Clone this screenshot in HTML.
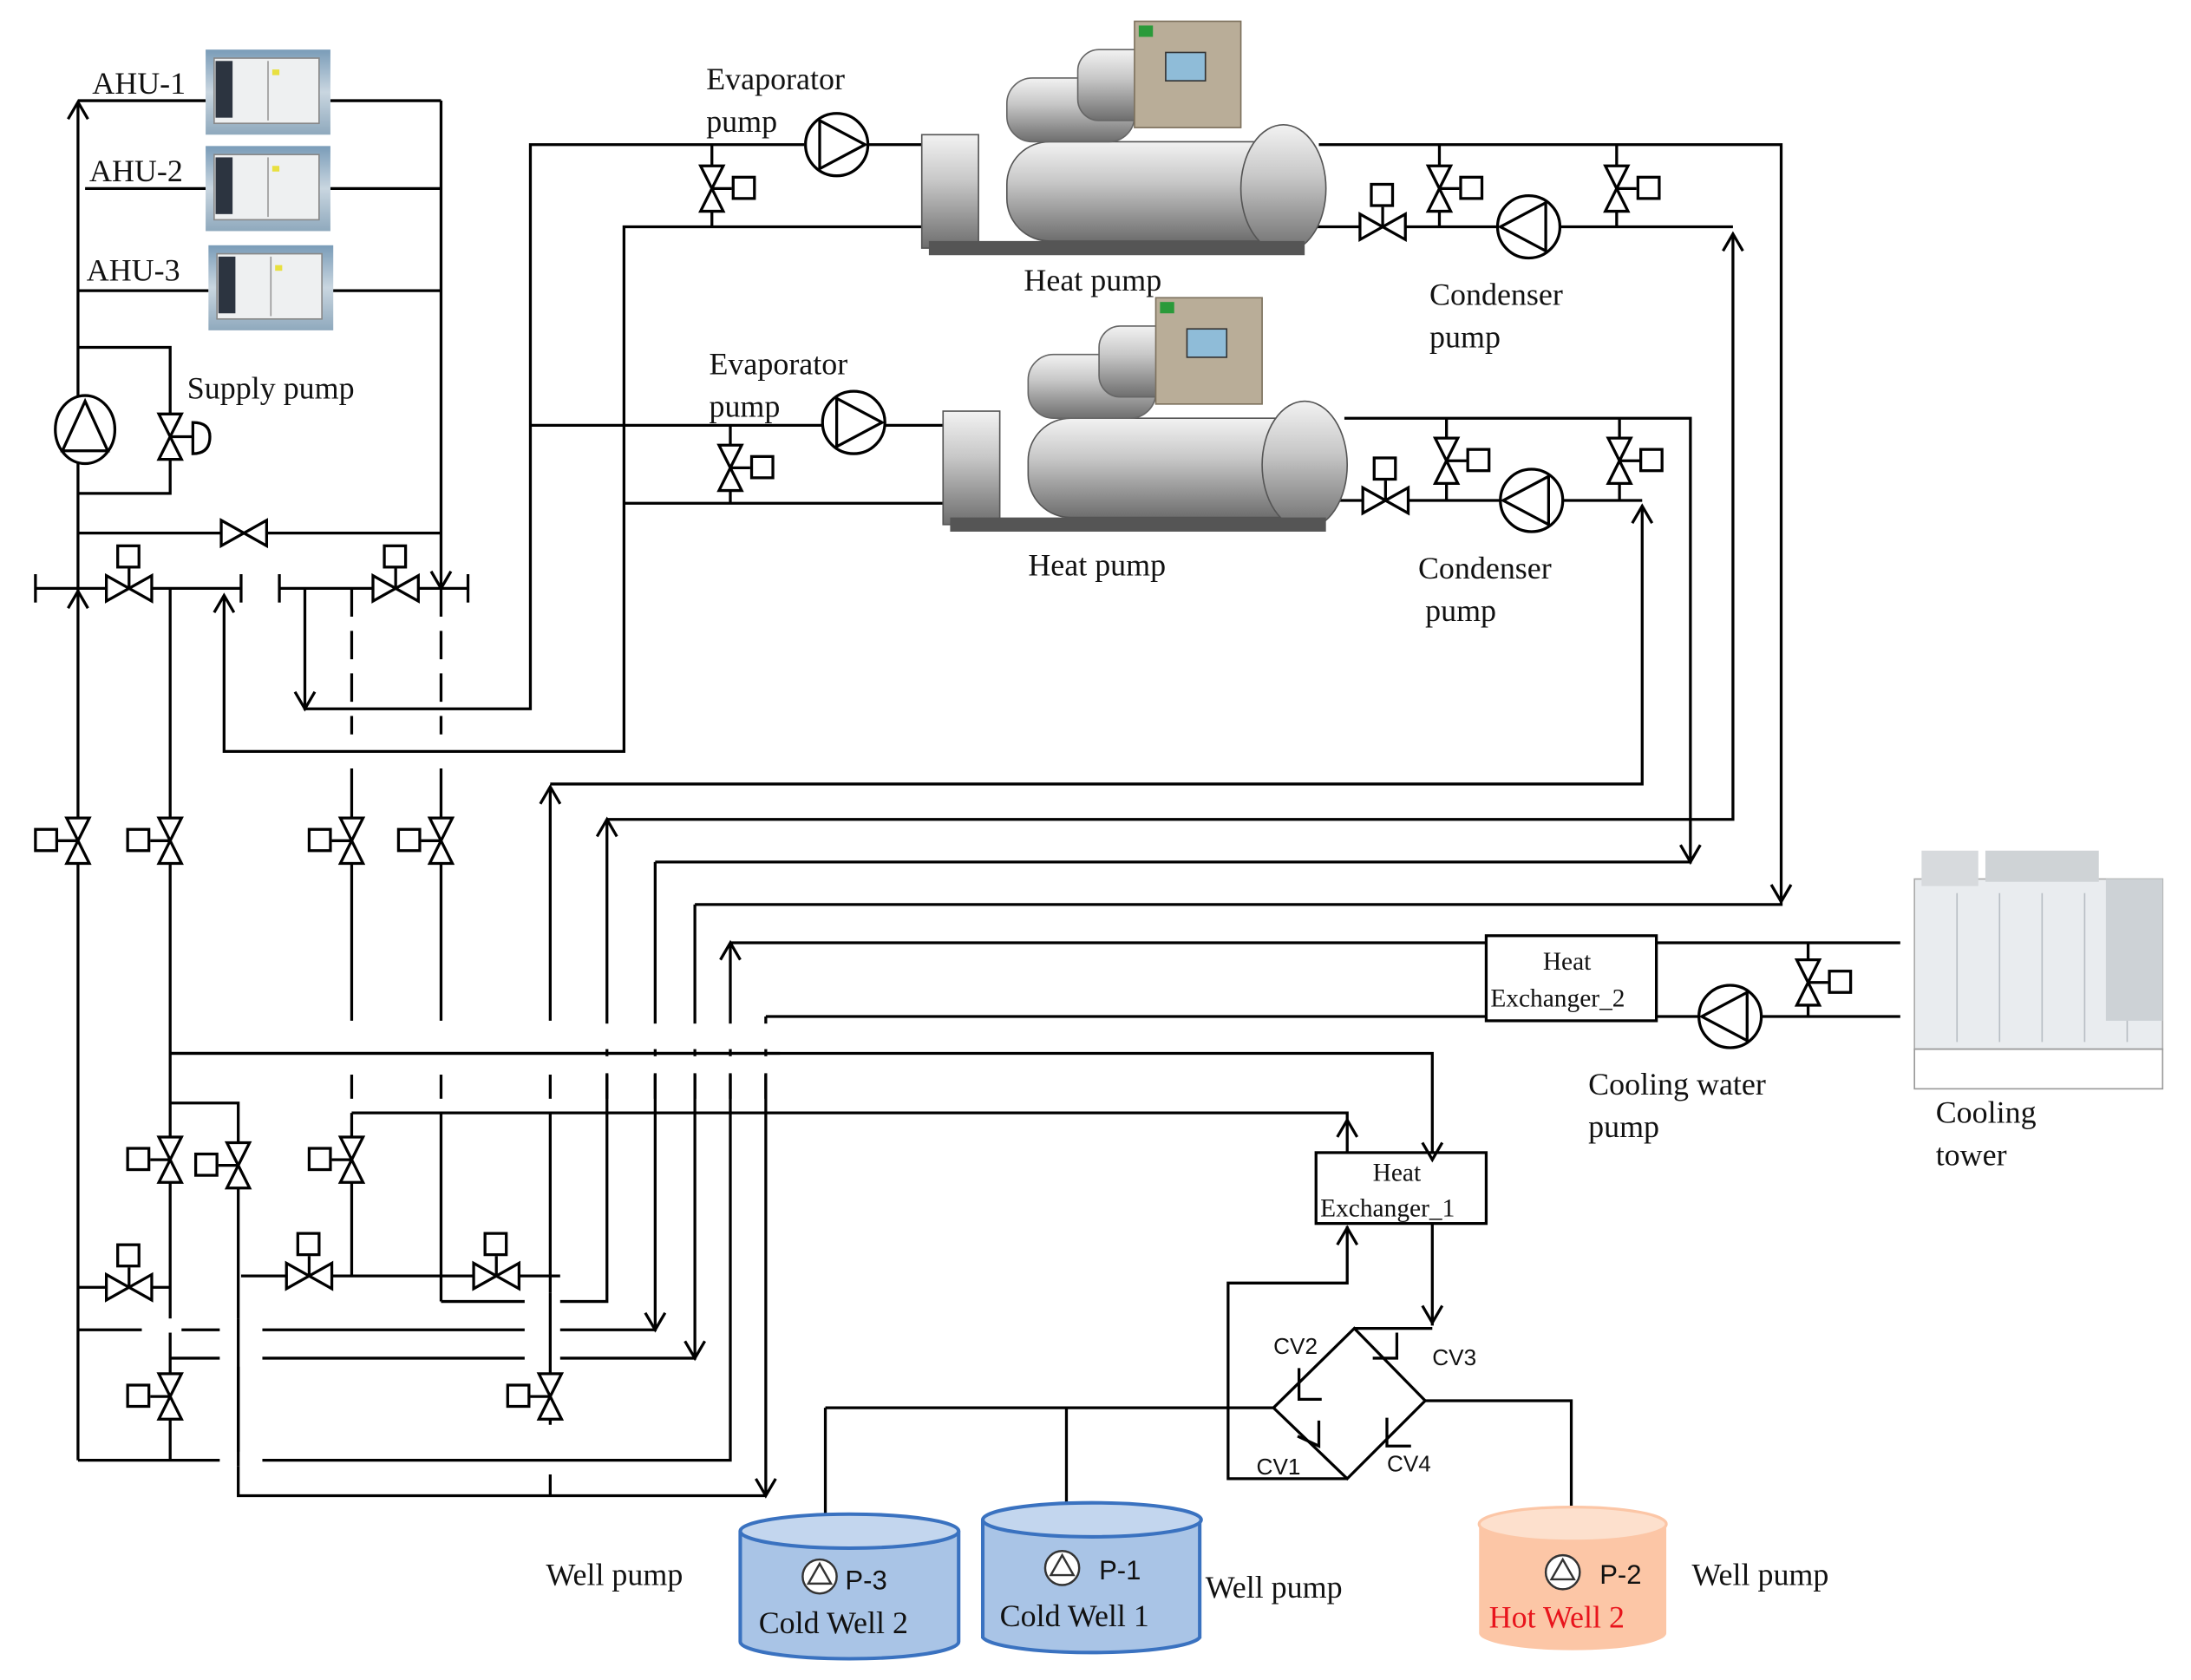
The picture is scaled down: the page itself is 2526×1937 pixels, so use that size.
<!DOCTYPE html>
<html><head><meta charset="utf-8"><style>
html,body{margin:0;padding:0;background:#fff}
svg{display:block}
text{font-family:"Liberation Serif",serif;fill:#111}
.s{font-family:"Liberation Sans",sans-serif}
</style></head><body>
<svg width="2526" height="1937" viewBox="0 0 1545 1185" preserveAspectRatio="none" xmlns="http://www.w3.org/2000/svg">
<defs>
<g id="vv"><path d="M-8,-16 L8,-16 L-8,16 L8,16 Z" fill="#fff" stroke="#000" stroke-width="2"/></g>
<g id="vvL"><use href="#vv"/><line x1="0" y1="0" x2="-14" y2="0" stroke="#000" stroke-width="2"/><rect x="-30" y="-8" width="15" height="15" fill="#fff" stroke="#000" stroke-width="2"/></g>
<g id="vvR"><use href="#vv"/><line x1="0" y1="0" x2="14" y2="0" stroke="#000" stroke-width="2"/><rect x="15" y="-8" width="15" height="15" fill="#fff" stroke="#000" stroke-width="2"/></g>
<g id="hv"><path d="M-16,-9 L-16,9 L16,-9 L16,9 Z" fill="#fff" stroke="#000" stroke-width="2"/></g>
<g id="hvT"><use href="#hv"/><line x1="0" y1="0" x2="0" y2="-14" stroke="#000" stroke-width="2"/><rect x="-8" y="-30" width="15" height="15" fill="#fff" stroke="#000" stroke-width="2"/></g>
<g id="au"><polyline points="-7,12 0,0 7,12" fill="none" stroke="#000" stroke-width="2"/></g>
<g id="ad"><polyline points="-7,-12 0,0 7,-12" fill="none" stroke="#000" stroke-width="2"/></g>
<g id="pR"><circle r="22" fill="#fff" stroke="#000" stroke-width="2"/><path d="M-12,-17 L20,0 L-12,17 Z" fill="none" stroke="#000" stroke-width="2"/></g>
<g id="pL"><circle r="22" fill="#fff" stroke="#000" stroke-width="2"/><path d="M12,-17 L-20,0 L12,17 Z" fill="none" stroke="#000" stroke-width="2"/></g>
<linearGradient id="cyl" x1="0" y1="0" x2="0" y2="1"><stop offset="0" stop-color="#f2f2f2"/><stop offset="0.4" stop-color="#c8c8c8"/><stop offset="1" stop-color="#6e6e6e"/></linearGradient>
<linearGradient id="ahu" x1="0" y1="0" x2="0" y2="1"><stop offset="0" stop-color="#7a9cb8"/><stop offset="0.5" stop-color="#c9d6e0"/><stop offset="1" stop-color="#8fa9bd"/></linearGradient>
<g id="ahuimg"><rect width="88" height="60" fill="url(#ahu)"/><rect x="6" y="6" width="74" height="46" fill="#eef0f1" stroke="#888"/><rect x="7" y="8" width="12" height="40" fill="#2c3440"/><line x1="44" y1="8" x2="44" y2="50" stroke="#999"/><rect x="47" y="14" width="5" height="4" fill="#e8e040"/></g>
<g id="hp">
<rect x="60" y="85" width="210" height="70" rx="30" fill="url(#cyl)" stroke="#555"/>
<rect x="0" y="80" width="40" height="80" fill="url(#cyl)" stroke="#555"/>
<ellipse cx="255" cy="118" rx="30" ry="45" fill="url(#cyl)" stroke="#555"/>
<rect x="60" y="40" width="90" height="45" rx="18" fill="url(#cyl)" stroke="#666"/>
<rect x="110" y="20" width="60" height="50" rx="15" fill="url(#cyl)" stroke="#666"/>
<rect x="150" y="0" width="75" height="75" fill="#b9ad98" stroke="#7d715d"/>
<rect x="172" y="22" width="28" height="20" fill="#8fbcd8" stroke="#333"/>
<rect x="153" y="3" width="10" height="8" fill="#2a9a3a"/>
<rect x="5" y="155" width="265" height="10" fill="#555"/>
</g>
</defs>

<g stroke="#000" stroke-width="2" fill="none">
<line x1="55" y1="72" x2="55" y2="1030"/>
<line x1="55" y1="71" x2="145" y2="71"/><line x1="233" y1="71" x2="311" y2="71"/>
<line x1="60" y1="133" x2="145" y2="133"/><line x1="233" y1="133" x2="311" y2="133"/>
<line x1="55" y1="205" x2="147" y2="205"/><line x1="234" y1="205" x2="311" y2="205"/>
<line x1="311" y1="71" x2="311" y2="415"/>
<polyline points="55,245 120,245 120,348 55,348"/>
<line x1="55" y1="376" x2="311" y2="376"/>
<line x1="25" y1="415" x2="170" y2="415"/><line x1="25" y1="405" x2="25" y2="425"/><line x1="170" y1="405" x2="170" y2="425"/>
<line x1="197" y1="415" x2="330" y2="415"/><line x1="197" y1="405" x2="197" y2="425"/><line x1="330" y1="405" x2="330" y2="425"/>
<line x1="120" y1="415" x2="120" y2="1030"/>
<polyline points="158,420 158,530 440,530 440,160 655,160"/>
<line x1="440" y1="355" x2="665" y2="355"/>
<polyline points="215,415 215,500 374,500 374,102 567,102"/>
<line x1="612" y1="102" x2="655" y2="102"/>
<line x1="374" y1="300" x2="580" y2="300"/><line x1="624" y1="300" x2="668" y2="300"/>
<line x1="248" y1="415" x2="248" y2="518" stroke-dasharray="20,10"/>
<line x1="311" y1="415" x2="311" y2="518" stroke-dasharray="20,10"/>
<line x1="248" y1="542" x2="248" y2="720"/><line x1="311" y1="542" x2="311" y2="720"/>
<line x1="248" y1="758" x2="248" y2="775"/><line x1="311" y1="758" x2="311" y2="775"/>
<line x1="248" y1="785" x2="248" y2="900"/><line x1="311" y1="785" x2="311" y2="918"/>
<polyline points="120,778 168,778 168,1055 540,1055"/>
<line x1="55" y1="908" x2="120" y2="908"/>
<line x1="170" y1="900" x2="395" y2="900"/>
<line x1="311" y1="918" x2="370" y2="918"/><polyline points="395,918 428,918 428,578"/>
<line x1="55" y1="938" x2="100" y2="938"/><line x1="128" y1="938" x2="155" y2="938"/><line x1="185" y1="938" x2="370" y2="938"/><polyline points="395,938 462,938 462,608"/>
<line x1="120" y1="958" x2="155" y2="958"/><line x1="185" y1="958" x2="370" y2="958"/><polyline points="395,958 490,958 490,638"/>
<line x1="55" y1="1030" x2="155" y2="1030"/><polyline points="185,1030 515,1030 515,665"/>
<line x1="540" y1="717" x2="540" y2="1055"/>
<line x1="388" y1="555" x2="388" y2="720"/><line x1="388" y1="758" x2="388" y2="775"/><line x1="388" y1="785" x2="388" y2="1005"/><line x1="388" y1="1040" x2="388" y2="1055"/>
<line x1="428" y1="758" x2="428" y2="775"/><line x1="462" y1="758" x2="462" y2="775"/><line x1="490" y1="758" x2="490" y2="775"/><line x1="515" y1="758" x2="515" y2="775"/><line x1="540" y1="758" x2="540" y2="775"/>
<polyline points="388,553 1158,553 1158,357"/>
<polyline points="428,578 1222,578 1222,165"/>
<polyline points="462,608 1192,608 1192,295 948,295"/>
<polyline points="490,638 1256,638 1256,102 930,102"/>
<line x1="515" y1="665" x2="1048" y2="665"/><line x1="1168" y1="665" x2="1340" y2="665"/>
<line x1="540" y1="717" x2="1048" y2="717"/><line x1="1168" y1="717" x2="1198" y2="717"/><line x1="1242" y1="717" x2="1340" y2="717"/>
<line x1="1275" y1="665" x2="1275" y2="717"/>
<polyline points="120,743 1010,743 1010,813"/>
<polyline points="248,785 950,785 950,813"/>
<line x1="915" y1="160" x2="1056" y2="160"/><line x1="1100" y1="160" x2="1222" y2="160"/>
<line x1="1015" y1="102" x2="1015" y2="160"/><line x1="1140" y1="102" x2="1140" y2="160"/>
<line x1="930" y1="353" x2="1058" y2="353"/><line x1="1102" y1="353" x2="1158" y2="353"/>
<line x1="1020" y1="295" x2="1020" y2="353"/><line x1="1142" y1="295" x2="1142" y2="353"/>
<line x1="502" y1="102" x2="502" y2="160"/><line x1="515" y1="300" x2="515" y2="355"/>
<rect x="928" y="813" width="120" height="50" fill="#fff"/>
<line x1="1010" y1="863" x2="1010" y2="935"/><line x1="955" y1="937" x2="1010" y2="937"/>
<polyline points="950,865 950,905 866,905 866,1043 950,1043"/>
<polygon points="955,937 1005,988 950,1043 898,993"/>
<line x1="582" y1="993" x2="898" y2="993"/><line x1="582" y1="993" x2="582" y2="1068"/><line x1="752" y1="993" x2="752" y2="1065"/>
<polyline points="1005,988 1108,988 1108,1063"/>
<polyline points="916,965 916,987 932,987"/>
<polyline points="968,958 985,958 985,940"/>
<polyline points="915,1013 930,1020 930,1002"/>
<polyline points="978,1000 978,1020 995,1020"/>
<rect x="1048" y="660" width="120" height="60" fill="#fff"/>
</g>

<g fill="#fff">
<rect x="380" y="722" width="170" height="18"/>
<rect x="380" y="745" width="170" height="12"/>
<rect x="100" y="930" width="26" height="10"/><rect x="155" y="930" width="28" height="34"/><rect x="155" y="1024" width="28" height="10"/>
<rect x="370" y="912" width="24" height="50"/>
</g>
<g stroke="#000" stroke-width="2">
<line x1="120" y1="743" x2="550" y2="743"/>
<line x1="168" y1="930" x2="168" y2="1034"/>
<line x1="388" y1="912" x2="388" y2="962"/>
</g>

<use href="#ahuimg" x="145" y="35"/><use href="#ahuimg" x="145" y="103"/><use href="#ahuimg" x="147" y="173"/>
<use href="#hp" x="650" y="15"/><use href="#hp" x="665" y="210"/>
<g>
<rect x="1350" y="620" width="175" height="120" fill="#e9ecef" stroke="#aaa"/>
<rect x="1355" y="600" width="40" height="25" fill="#d7dadd"/>
<rect x="1400" y="600" width="80" height="22" fill="#cfd3d6"/>
<g stroke="#b8bec4" stroke-width="1"><line x1="1380" y1="630" x2="1380" y2="735"/><line x1="1410" y1="630" x2="1410" y2="735"/><line x1="1440" y1="630" x2="1440" y2="735"/><line x1="1470" y1="630" x2="1470" y2="735"/><line x1="1500" y1="630" x2="1500" y2="735"/></g>
<rect x="1485" y="620" width="40" height="100" fill="#cdd2d6"/>
<rect x="1350" y="740" width="175" height="28" fill="none" stroke="#999"/>
</g>

<use href="#vvR" x="502" y="133"/><use href="#vvR" x="1015" y="133"/><use href="#vvR" x="1140" y="133"/>
<use href="#vvR" x="515" y="330"/><use href="#vvR" x="1020" y="325"/><use href="#vvR" x="1142" y="325"/>
<use href="#hvT" x="975" y="160"/><use href="#hvT" x="977" y="353"/>
<use href="#vvR" x="1275" y="693"/>
<use href="#hv" x="172" y="376"/>
<use href="#hvT" x="91" y="415"/><use href="#hvT" x="279" y="415"/>
<use href="#vvL" x="55" y="593"/><use href="#vvL" x="120" y="593"/><use href="#vvL" x="248" y="593"/><use href="#vvL" x="311" y="593"/>
<use href="#vvL" x="120" y="818"/><use href="#vvL" x="168" y="822"/><use href="#vvL" x="248" y="818"/>
<use href="#hvT" x="91" y="908"/><use href="#hvT" x="218" y="900"/><use href="#hvT" x="350" y="900"/>
<use href="#vvL" x="120" y="985"/><use href="#vvL" x="388" y="985"/>
<use href="#vv" x="120" y="308"/>
<path d="M136,298 Q148,298 148,308 Q148,320 136,320 Z" fill="#fff" stroke="#000" stroke-width="2"/>
<line x1="120" y1="308" x2="136" y2="308" stroke="#000" stroke-width="2"/>
<ellipse cx="60" cy="303" rx="21" ry="24" fill="#fff" stroke="#000" stroke-width="2"/>
<path d="M60,283 L76,318 L44,318 Z" fill="none" stroke="#000" stroke-width="2"/>
<use href="#pR" x="590" y="102"/><use href="#pR" x="602" y="298"/>
<use href="#pL" x="1078" y="160"/><use href="#pL" x="1080" y="353"/><use href="#pL" x="1220" y="717"/>

<use href="#au" x="55" y="72"/><use href="#ad" x="311" y="415"/>
<use href="#au" x="55" y="417"/><use href="#au" x="158" y="420"/>
<use href="#ad" x="215" y="500"/>
<use href="#au" x="388" y="555"/><use href="#au" x="428" y="578"/><use href="#au" x="515" y="665"/>
<use href="#au" x="1158" y="357"/><use href="#au" x="1222" y="165"/>
<use href="#ad" x="1192" y="608"/><use href="#ad" x="1256" y="636"/>
<use href="#ad" x="462" y="938"/><use href="#ad" x="490" y="958"/><use href="#ad" x="540" y="1055"/>
<use href="#ad" x="1010" y="818"/><use href="#au" x="950" y="790"/>
<use href="#au" x="950" y="866"/><use href="#ad" x="1010" y="933"/>

<g stroke="#3a72c0" stroke-width="2.5">
<path d="M522,1080 L522,1158 A77,12 0 0 0 676,1158 L676,1080" fill="#a9c4e6"/>
<ellipse cx="599" cy="1080" rx="77" ry="12" fill="#c3d6ee"/>
<path d="M693,1072 L693,1155 A77,12 0 0 0 846,1155 L846,1072" fill="#a9c4e6"/>
<ellipse cx="770" cy="1072" rx="77" ry="12" fill="#c3d6ee"/>
</g>
<path d="M1043,1075 L1043,1152 A66,12 0 0 0 1175,1152 L1175,1075" fill="#fcc6a6"/>
<ellipse cx="1109" cy="1075" rx="66" ry="12" fill="#fde0cd" stroke="#fcc6a6" stroke-width="2"/>
<g fill="#fff" stroke="#333" stroke-width="1.5">
<circle cx="578" cy="1112" r="12"/><circle cx="749" cy="1106" r="12"/><circle cx="1102" cy="1109" r="12"/>
</g>
<g fill="none" stroke="#333" stroke-width="1.5">
<path d="M578,1103 L586,1117 L570,1117 Z"/><path d="M749,1097 L757,1111 L741,1111 Z"/><path d="M1102,1100 L1110,1114 L1094,1114 Z"/>
</g>

<g font-size="22">
<text x="65" y="66">AHU-1</text><text x="63" y="128">AHU-2</text><text x="61" y="198">AHU-3</text>
<text x="132" y="281">Supply pump</text>
<text x="498" y="63">Evaporator</text><text x="498" y="93">pump</text>
<text x="722" y="205">Heat pump</text>
<text x="1008" y="215">Condenser</text><text x="1008" y="245">pump</text>
<text x="500" y="264">Evaporator</text><text x="500" y="294">pump</text>
<text x="725" y="406">Heat pump</text>
<text x="1000" y="408">Condenser</text><text x="1005" y="438">pump</text>
<text x="1120" y="772">Cooling water</text><text x="1120" y="802">pump</text>
<text x="1365" y="792">Cooling</text><text x="1365" y="822">tower</text>
<text x="385" y="1118">Well pump</text><text x="850" y="1127">Well pump</text><text x="1193" y="1118">Well pump</text>
<text x="535" y="1152">Cold Well 2</text><text x="705" y="1147">Cold Well 1</text>
<text x="1050" y="1148" style="fill:#e8141c">Hot Well 2</text>
</g>
<g font-size="18">
<text x="1088" y="684">Heat</text><text x="1051" y="710">Exchanger_2</text>
<text x="968" y="833">Heat</text><text x="931" y="858">Exchanger_1</text>
</g>
<g font-size="19" class="s">
<text class="s" x="596" y="1121">P-3</text><text class="s" x="775" y="1114">P-1</text><text class="s" x="1128" y="1117">P-2</text>
</g>
<g font-size="16">
<text class="s" x="898" y="955">CV2</text><text class="s" x="1010" y="963">CV3</text>
<text class="s" x="886" y="1040">CV1</text><text class="s" x="978" y="1038">CV4</text>
</g>
</svg>
</body></html>
